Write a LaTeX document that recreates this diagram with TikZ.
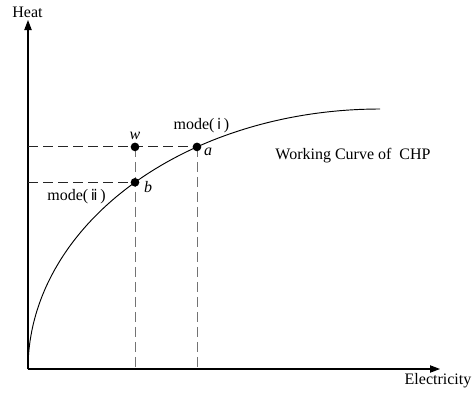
\documentclass[tikz,border=0pt]{standalone}
\usepackage{fontspec}
\setmainfont{Liberation Serif}
\newfontfamily\romfont{DejaVu Sans}
\usetikzlibrary{arrows.meta}

\begin{document}
\begin{tikzpicture}[
  x=0.75pt, y=-0.75pt,
  font=\fontsize{12}{14}\selectfont,
  axis/.style   = {-{Triangle[length=7.5pt,width=5.5pt]}, line width=.8pt},
  guideH/.style = {dash pattern=on 7.5pt off 3.75pt, line width=.7pt, draw=black!85},
  guideV/.style = {dash pattern=on 7.5pt off 3.75pt, line width=.7pt, draw=black!55},
  curve/.style  = {line width=.7pt},
  dot/.style    = {circle, fill=black, inner sep=0pt, minimum size=6.5pt},
  lbl/.style    = {inner sep=1pt},
]
\useasboundingbox (0,0) rectangle (475,397);

% ── axes ────────────────────────────────────────────────────────────────
\coordinate (O) at (28,369);
\coordinate (ytip) at (28,20);
\coordinate (xtip) at (440,369);
\draw[axis] (O) -- (ytip);
\draw[axis] (O) -- (xtip);
\node[lbl] (heat) at (27.5,12) {Heat};
\node[lbl] (elec) at (438,381) {Electricity};

% ── operating points on the quarter ellipse ────────────────────────────
\coordinate (pa) at ({380+352*cos(121.33)},{369-260*sin(121.33)});
\coordinate (pb) at ({380+352*cos(134.11)},{369-260*sin(134.11)});
\coordinate (pw) at (pb |- pa);
\coordinate (ha) at (O |- pa);
\coordinate (hb) at (O |- pb);
\coordinate (vw) at (pw |- O);
\coordinate (va) at (pa |- O);

\draw[guideH] (ha) -- (pa);
\draw[guideH] (hb) -- (pb);
\draw[guideV] (pw) -- (vw);
\draw[guideV] (pa) -- (va);

% ── working curve ──────────────────────────────────────────────────────
\draw[curve] plot[domain=180:90, samples=120, smooth]
  ({380+352*cos(\x)},{369-260*sin(\x)});

\node[dot] (w) at (pw) {};
\node[dot] (a) at (pa) {};
\node[dot] (b) at (pb) {};

% ── labels ─────────────────────────────────────────────────────────────
\node[lbl] (wl) at (135,136) {\textit{w}};
\node[lbl] (al) at (208,152) {\textit{a}};
\node[lbl] (bl) at (148,187) {\textit{b}};
\node[lbl] (modei) at (201.5,126) {mode(\,{\romfont\fontsize{11}{12}\selectfont ⅰ}\,)};
\node[lbl] (modeii) at (76.5,197) {mode(\,{\romfont\fontsize{11}{12}\selectfont ⅱ}\,)};
\node[lbl] (chp) at (353,156) {Working Curve of\ \ CHP};
\end{tikzpicture}
\end{document}
